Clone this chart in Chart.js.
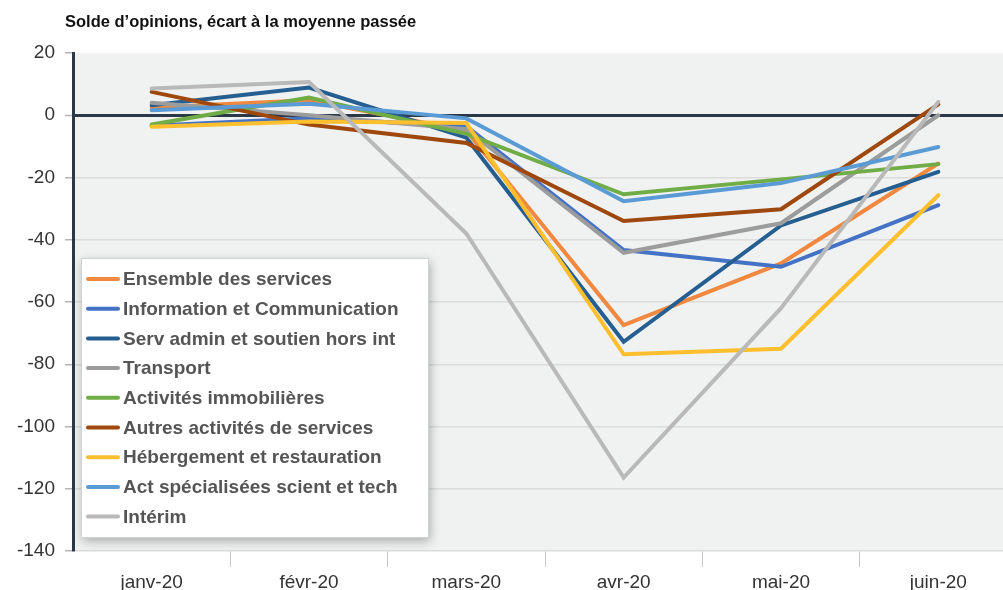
<!DOCTYPE html>
<html>
  <head>
    <meta charset="utf-8">
    <script src="https://cdn.jsdelivr.net/npm/chart.js"></script>
  </head>
  <style>
    body {
      margin: 0;
      background: white;
    }
    #container {
      width: 1003px;
      height: 590px;
      overflow: hidden;
    }
  </style>
  <body>
    <div id="container">
      <canvas id="soldeChart" width="1020" height="590"></canvas>
    </div>
    <script>
      const TITLE = 'Solde d\u2019opinions, écart à la moyenne passée';
      const MONTHS = ['janv-20', 'févr-20', 'mars-20', 'avr-20', 'mai-20', 'juin-20'];

      const ENSEMBLE = [2.5, 4.8, -5, -67.4, -47.6, -15.5];
      const INFO_COM = [-3.4, -1, -3.5, -43.3, -48.7, -28.9];
      const SERV_ADMIN = [3.2, 8.9, -7.2, -72.8, -35.4, -18.2];
      const TRANSPORT = [4, 0, -4.5, -44.2, -34.7, 0];
      const IMMOBILIER = [-3, 5.7, -6, -25.4, -20.6, -15.7];
      const AUTRES = [7.5, -3, -8.9, -34, -30.2, 3.5];
      const HEBERGEMENT = [-3.7, -2, -2.5, -76.8, -75, -25.7];
      const ACT_SPEC = [1.6, 3.7, -1, -27.6, -21.8, -10.2];
      const INTERIM = [8.6, 10.7, -38, -116.4, -62, 4.3];

      const CHART_COLORS = {
        orange: '#f0883f',
        blue: '#4472c4',
        darkBlue: '#255e91',
        grey: '#9c9c9c',
        green: '#70ad47',
        brown: '#9e480e',
        yellow: '#fdbf2d',
        lightBlue: '#5b9bd5',
        lightGrey: '#b9b9b9'
      };

      const SERIES = [
        ['Ensemble des services', ENSEMBLE, CHART_COLORS.orange],
        ['Information et Communication', INFO_COM, CHART_COLORS.blue],
        ['Serv admin et soutien hors int', SERV_ADMIN, CHART_COLORS.darkBlue],
        ['Transport', TRANSPORT, CHART_COLORS.grey],
        ['Activités immobilières', IMMOBILIER, CHART_COLORS.green],
        ['Autres activités de services', AUTRES, CHART_COLORS.brown],
        ['Hébergement et restauration', HEBERGEMENT, CHART_COLORS.yellow],
        ['Act spécialisées scient et tech', ACT_SPEC, CHART_COLORS.lightBlue],
        ['Intérim', INTERIM, CHART_COLORS.lightGrey]
      ];

      const AXIS_DARK = '#2b3847';

      // plot background + title
      const backgroundPlugin = {
        id: 'background',
        beforeDraw(chart) {
          const { ctx, chartArea } = chart;
          ctx.save();
          ctx.fillStyle = '#f0f1f1';
          ctx.fillRect(chartArea.left, chartArea.top, chartArea.right - chartArea.left, chartArea.bottom - chartArea.top);
          ctx.fillStyle = '#111111';
          ctx.font = 'bold 16.5px "Liberation Sans", Arial, sans-serif';
          ctx.textBaseline = 'middle';
          ctx.textAlign = 'left';
          ctx.fillText(TITLE, 65, 22);
          ctx.restore();
        }
      };

      // boxed legend inside the plot, drawn on top
      const legendBoxPlugin = {
        id: 'legendBox',
        afterDraw(chart) {
          const { ctx } = chart;
          const x = 81, y = 258, w = 347, h = 279;
          ctx.save();
          ctx.shadowColor = 'rgba(0, 0, 0, 0.3)';
          ctx.shadowBlur = 10;
          ctx.shadowOffsetX = 2;
          ctx.shadowOffsetY = 4;
          ctx.fillStyle = 'white';
          ctx.fillRect(x, y, w, h);
          ctx.restore();
          ctx.save();
          ctx.strokeStyle = '#cfd2d4';
          ctx.lineWidth = 1;
          ctx.strokeRect(x + 0.5, y + 0.5, w, h);
          ctx.font = 'bold 19px "Liberation Sans", Arial, sans-serif';
          ctx.textBaseline = 'middle';
          chart.data.datasets.forEach((ds, i) => {
            const ly = 279 + i * 29.7;
            ctx.strokeStyle = ds.borderColor;
            ctx.lineWidth = 4;
            ctx.lineCap = 'round';
            ctx.beginPath();
            ctx.moveTo(88, ly);
            ctx.lineTo(118, ly);
            ctx.stroke();
            ctx.fillStyle = '#555555';
            ctx.fillText(ds.label, 123, ly + 1);
          });
          ctx.restore();
        }
      };

      const data = {
        labels: MONTHS,
        datasets: SERIES.map((s, i) => ({
          label: s[0],
          data: s[1],
          borderColor: s[2],
          backgroundColor: s[2],
          borderWidth: 4,
          pointRadius: 0,
          tension: 0,
          borderCapStyle: 'round',
          order: SERIES.length - i
        }))
      };

      const config = {
        type: 'line',
        data: data,
        options: {
          responsive: false,
          animation: false,
          layout: {
            padding: { top: 53, right: 3, bottom: 0, left: 0 }
          },
          plugins: {
            legend: { display: false },
            title: { display: false },
            tooltip: { enabled: false }
          },
          scales: {
            x: {
              offset: true,
              grid: {
                offset: true,
                drawOnChartArea: false,
                drawTicks: true,
                tickLength: 16,
                tickColor: (c) => (c.index === 0 ? 'rgba(0,0,0,0)' : '#c8c8c8'),
                tickWidth: 1
              },
              border: { display: false },
              ticks: {
                color: '#333333',
                padding: 4,
                font: { family: '"Liberation Sans", Arial, sans-serif', size: 19 }
              },
              afterFit(scale) {
                scale.height = 39;
              }
            },
            y: {
              min: -140,
              max: 20,
              ticks: {
                stepSize: 20,
                color: '#333333',
                padding: 10,
                font: { family: '"Liberation Sans", Arial, sans-serif', size: 19 }
              },
              grid: {
                color: (c) => {
                  const v = c.tick ? c.tick.value : null;
                  if (v === 0) return AXIS_DARK;
                  if (v === 20) return 'rgba(0,0,0,0)';
                  return '#dcdcdc';
                },
                lineWidth: (c) => (c.tick && c.tick.value === 0 ? 3 : 1.5),
                tickLength: 8,
                tickColor: '#b5b5b5',
                tickWidth: 1.5
              },
              border: { color: AXIS_DARK, width: 3 },
              afterFit(scale) {
                scale.width = 73;
              }
            }
          }
        },
        plugins: [backgroundPlugin, legendBoxPlugin]
      };

      const chart = new Chart(document.getElementById('soldeChart'), config);
    </script>
  </body>
</html>
